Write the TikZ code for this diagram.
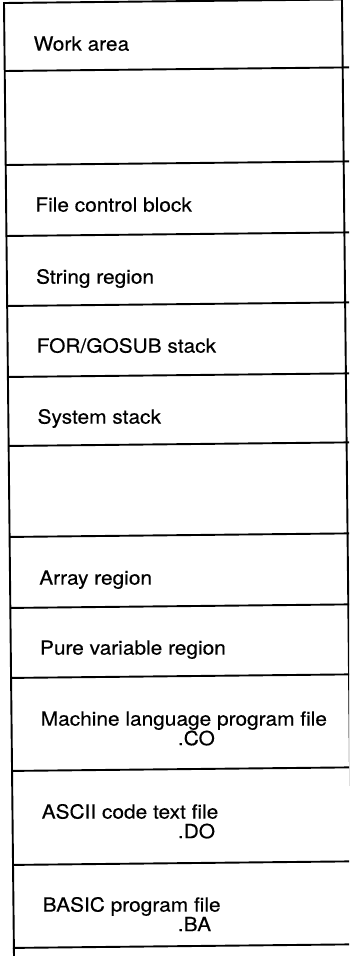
\documentclass[tikz,border=0pt]{standalone}
\usepackage{fontspec}
\setmainfont{TeX Gyre Heros}[FakeStretch=1.07,FakeBold=0.4]
\begin{document}
\begin{tikzpicture}[x=1pt,y=-1pt,
  lbl/.style={anchor=base west,inner sep=0pt,font=\fontsize{19.5}{21}\selectfont},
  rule/.style={line width=1.9pt}]
\useasboundingbox (0,0) rectangle (349,958);
\clip (0,0) rectangle (349,958);
\begin{scope}[rotate around={0.6:(4,3)}]
  \draw[rule] (4,3) rectangle (342,948);
  \foreach \yy in {71,165,236,306,377,446,537,608,678,771,865}
    \draw[rule] (4,\yy) -- (360,\yy);
  \draw[rule] (342,948) -- (360,948);
  \draw[rule] (4,948) -- (4,956);
  \node[lbl] (work) at (33,51) {Work area};
  \node[lbl] (fcb) at (33,212) {File control block};
  \node[lbl] (str) at (33,284) {String region};
  \node[lbl] (for) at (33,353) {FOR/GOSUB stack};
  \node[lbl] (sys) at (33,424) {System stack};
  \node[lbl] (arr) at (33,585) {Array region};
  \node[lbl] (pure) at (33,655) {Pure variable region};
  \node[lbl] (mach) at (33,726) {Machine language program file};
  \node[lbl] (co) at (170,747) {.CO};
  \node[lbl] (ascii) at (33,819) {ASCII code text file};
  \node[lbl] (do) at (169,840) {.DO};
  \node[lbl] (basic) at (33,912) {BASIC program file};
  \node[lbl] (ba) at (168,933) {.BA};
\end{scope}
\end{tikzpicture}
\end{document}
